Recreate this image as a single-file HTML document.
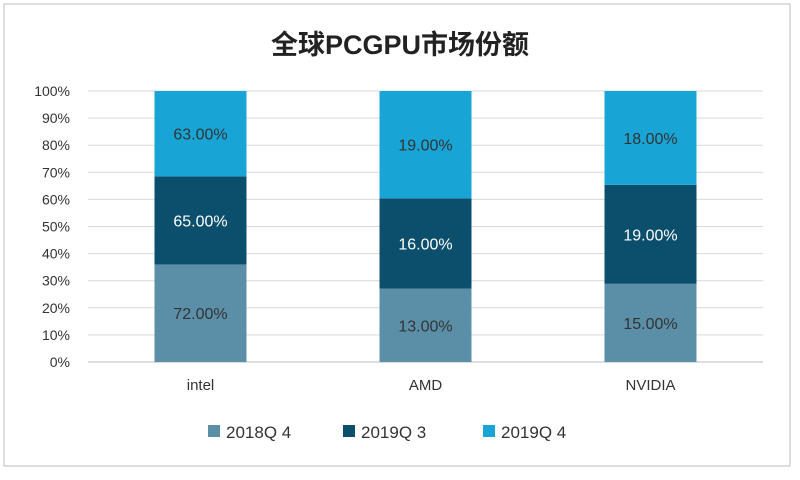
<!DOCTYPE html>
<html><head><meta charset="utf-8"><style>
body{margin:0;background:#fff;}
svg{font-family:"Liberation Sans","Noto Sans CJK SC",sans-serif;}
</style></head><body>
<svg id="chart" width="800" height="475">
<rect x="4" y="4" width="786" height="462" fill="#fff" stroke="#bdbdbd"/>
<text x="400" y="54" text-anchor="middle" font-size="27" font-weight="bold" fill="#222">全球PCGPU市场份额</text>
<g id="grid"></g><g id="bars"></g><g id="axis"></g><g id="legend"></g>
</svg>
<script>
const categories=["intel","AMD","NVIDIA"];
const seriesNames=["2018Q 4","2019Q 3","2019Q 4"];
const s2018Q4=[72,13,15];
const s2019Q3=[65,16,19];
const s2019Q4=[63,19,18];
const yTicks=[0,10,20,30,40,50,60,70,80,90,100];
const colors=["#5b8fa8","#0b4f6c","#18a5d6"];
const textColors=["#333","#fff","#333"];
const NS="http://www.w3.org/2000/svg";
const L=88,R=763,T=91,B=362;
const y=v=>B-(B-T)*v/100;
const band=(R-L)/categories.length;
const x=i=>L+band*(i+0.5);
const bw=92;
function mk(tag,attrs,parent,text){const e=document.createElementNS(NS,tag);for(const k in attrs)e.setAttribute(k,attrs[k]);if(text!==undefined)e.textContent=text;parent.appendChild(e);return e;}
const grid=document.getElementById('grid'),bars=document.getElementById('bars'),axis=document.getElementById('axis'),legend=document.getElementById('legend');
yTicks.forEach(t=>{
 const g=mk('line',{x1:L,x2:R,y1:y(t),y2:y(t),stroke:t===0?'#bbb':'#d9d9d9'},grid);
 
 
 const lb=mk('text',{x:70,y:y(t)+5,'text-anchor':'end','font-size':14,fill:'#333'},axis,t+'%');
 
 
});
const series=[s2018Q4,s2019Q3,s2019Q4];
categories.forEach((c,i)=>{
 const total=series.reduce((a,s)=>a+s[i],0);
 let acc=0;
 series.forEach((s,k)=>{
  const p0=acc/total*100; acc+=s[i]; const p1=acc/total*100;
  const r=mk('rect',{x:x(i)-bw/2,y:y(p1),width:bw,height:y(p0)-y(p1),fill:colors[k]},bars);
  
  
  const t=mk('text',{x:x(i),y:(y(p0)+y(p1))/2+6,'text-anchor':'middle','font-size':16,fill:textColors[k]},bars,s[i].toFixed(2)+'%');
  
  
 });
 const cl=mk('text',{x:x(i),y:390,'text-anchor':'middle','font-size':15,fill:'#333'},axis,c);
 
 
});
const lx=[208,343,483];
seriesNames.forEach((n,k)=>{
 const r=mk('rect',{x:lx[k],y:425,width:12,height:12,fill:colors[k]},legend);
 
 
 const t=mk('text',{x:lx[k]+18,y:438,'font-size':17,fill:'#333'},legend,n);
 
 
});
</script>
</body></html>
